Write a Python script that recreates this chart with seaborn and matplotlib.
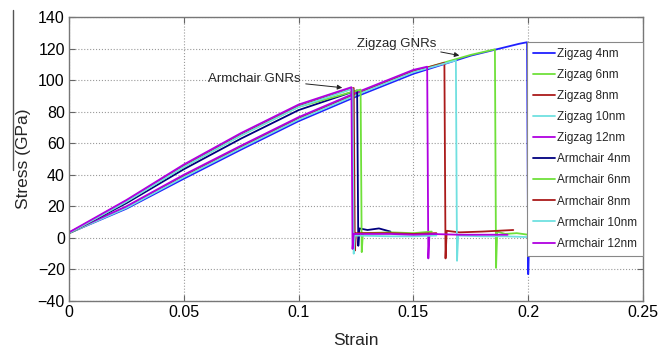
import matplotlib
matplotlib.use("Agg")
import matplotlib.pyplot as plt
from matplotlib.lines import Line2D
import seaborn as sns
import pandas as pd

# ---------------- data ----------------
series_names = ["Zigzag 4nm", "Zigzag 6nm", "Zigzag 8nm", "Zigzag 10nm", "Zigzag 12nm",
                "Armchair 4nm", "Armchair 6nm", "Armchair 8nm", "Armchair 10nm", "Armchair 12nm"]

z4_strain = [0, .025, .05, .075, .1, .125, .15, .175, .196, .1995, .2, .2005, .2015, .203]
z4_stress = [3, 18.5, 37.5, 56, 74, 89.5, 104, 115.5, 123, 124, -23, 3, 1.5, 2]

z6_strain = [0, .025, .05, .075, .1, .125, .15, .175, .1855, .186, .1865, .19, .195, .2]
z6_stress = [3, 19.5, 39, 57.5, 75.5, 91, 105.5, 116, 119.5, -19, 4, 2.5, 3, 2]

z8_strain = [0, .025, .05, .075, .1, .125, .15, .1635, .164, .1645, .17, .18, .1935]
z8_stress = [3, 19.5, 39, 57.5, 75.5, 91, 105.5, 111, -13, 4.5, 3.5, 4, 5]

z10_strain = [0, .025, .05, .075, .1, .125, .15, .1685, .169, .1695, .18, .19, .2]
z10_stress = [3, 19, 38.5, 57, 75, 90.5, 105, 112.5, -14.5, 1.5, 1, 1, 0.5]

z12_strain = [0, .025, .05, .075, .1, .125, .15, .156, .1565, .157, .17, .18, .191]
z12_stress = [3.5, 20, 40, 58.5, 76.5, 92, 106.5, 108.5, -13, 2.5, 2, 2, 2]

a4_strain = [0, .025, .05, .075, .1, .1255, .126, .1265, .13, .135, .14]
a4_stress = [3, 22, 43.5, 63, 81, 93.5, -5, 6, 5, 6, 4]

a6_strain = [0, .025, .05, .075, .1, .127, .1275, .128, .14, .15, .158]
a6_stress = [3, 23, 45, 65, 83, 94, -9, 3, 3.5, 3, 4]

a8_strain = [0, .025, .05, .075, .1, .124, .1245, .125, .14, .15, .16]
a8_stress = [3, 23.5, 45.5, 65.5, 83.5, 95, -8, 3, 3, 2.5, 3]

a10_strain = [0, .025, .05, .075, .1, .1235, .124, .1245, .14, .15, .16]
a10_stress = [3, 23, 45, 65, 83, 94.5, -10, 1.5, 1, 1, 1.5]

a12_strain = [0, .025, .05, .075, .1, .123, .1235, .124, .14, .15, .16]
a12_stress = [3.5, 24, 46.5, 66.5, 84.5, 95.5, -7, 2.5, 2.5, 2, 2.5]

x_ticks = [0, 0.05, 0.1, 0.15, 0.2, 0.25]
x_tick_labels = ["0", "0.05", "0.1", "0.15", "0.2", "0.25"]
y_ticks = [-40, -20, 0, 20, 40, 60, 80, 100, 120, 140]

all_strain = [z4_strain, z6_strain, z8_strain, z10_strain, z12_strain,
              a4_strain, a6_strain, a8_strain, a10_strain, a12_strain]
all_stress = [z4_stress, z6_stress, z8_stress, z10_stress, z12_stress,
              a4_stress, a6_stress, a8_stress, a10_stress, a12_stress]

frames = []
for name, s, t in zip(series_names, all_strain, all_stress):
    frames.append(pd.DataFrame({"Strain": s, "Stress": t, "series": name}))
df = pd.concat(frames, ignore_index=True)

palette = {
    "Zigzag 4nm": "#2020ff", "Zigzag 6nm": "#6fe03a", "Zigzag 8nm": "#aa1a1a",
    "Zigzag 10nm": "#70e0e0", "Zigzag 12nm": "#b000e0",
    "Armchair 4nm": "#00007f", "Armchair 6nm": "#6fe03a", "Armchair 8nm": "#aa1a1a",
    "Armchair 10nm": "#70e0e0", "Armchair 12nm": "#b000e0",
}

# ---------------- style ----------------
sns.set_style("white")
plt.rcParams["font.family"] = ["Liberation Sans", "DejaVu Sans"]

fig = plt.figure(figsize=(6.59, 3.5), dpi=100)
ax = fig.add_axes([69 / 659, 1 - 301 / 350, (643 - 69) / 659, (301 - 17) / 350])

sns.lineplot(data=df, x="Strain", y="Stress", hue="series", hue_order=series_names,
             palette=palette, estimator=None, sort=False, linewidth=1.3, ax=ax)

ax.set_xlim(0, 0.25)
ax.set_ylim(-40, 140)
ax.set_xticks(x_ticks)
ax.set_xticklabels(x_tick_labels)
ax.set_yticks(y_ticks)
ax.grid(True, linestyle=":", color="#9a9a9a", linewidth=0.8)
ax.tick_params(direction="in", length=4, width=0.8, colors="#666666",
               labelcolor="black", labelsize=11.5, top=True, right=True,
               bottom=True, left=True, pad=3)
for sp in ax.spines.values():
    sp.set_color("#777777")
    sp.set_linewidth(1.0)

ax.set_xlabel("Strain", fontsize=12.5, labelpad=9)
ax.set_ylabel("Stress (GPa)", fontsize=12.5, labelpad=5)

# annotations
arrow = dict(arrowstyle="-|>", color="#222222", lw=0.7, mutation_scale=7, shrinkA=1, shrinkB=0)
ax.annotate("Zigzag GNRs", xy=(0.170, 115.6), xytext=(0.1426, 123.2),
            ha="center", va="center", fontsize=9.5, arrowprops=arrow)
ax.annotate("Armchair GNRs", xy=(0.119, 95.2), xytext=(0.0809, 101),
            ha="center", va="center", fontsize=9.5, arrowprops=arrow)

# legend
sns.move_legend(ax, "upper right", bbox_to_anchor=(1.0, (301 - 42) / (301 - 17)),
                title=None, frameon=True, fancybox=False, fontsize=8.5,
                handlelength=1.9, handletextpad=0.15, labelspacing=0.77,
                borderpad=0.5, borderaxespad=0)
leg = ax.get_legend()
leg.get_frame().set_edgecolor("#888888")
leg.get_frame().set_linewidth(0.8)
leg.get_frame().set_alpha(1)

# stray scan line beside the y label
fig.add_artist(Line2D([13 / 659, 13 / 659], [1 - 10 / 350, 1 - 170 / 350],
                      color="#555555", lw=1.0))

fig.savefig("out.png", dpi=100)
